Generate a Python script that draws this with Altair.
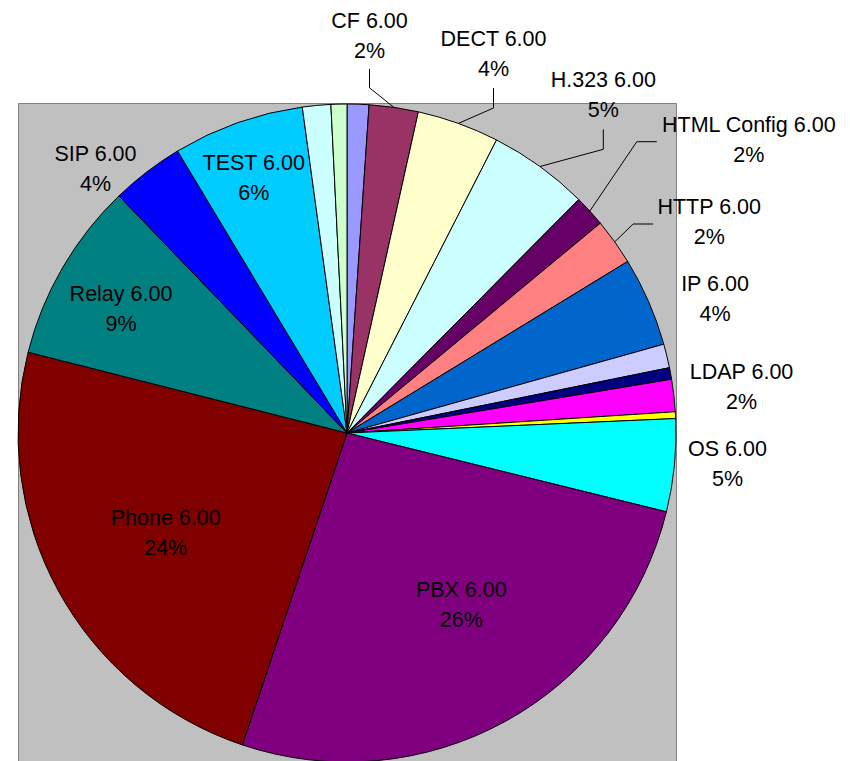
import altair as alt
import numpy as np
import pandas as pd

# ---------------- data ----------------
version = "6.00"
# slices in drawing order (clockwise from 12 o'clock); "" = slice without a label
slice_names = ["", "CF", "DECT", "H.323", "HTML Config", "HTTP", "IP", "", "",
               "LDAP", "", "OS", "PBX", "Phone", "Relay", "SIP", "TEST", "", ""]
values = [1.07, 2.41, 4.03, 4.93, 1.55, 2.28, 4.38, 1.17, 0.57,
          1.58, 0.33, 4.55, 26.3, 23.8, 8.86, 3.58, 6.44, 1.39, 0.78]
colors = ["#9999FF", "#993366", "#FFFFCC", "#CCFFFF", "#660066", "#FF8080",
          "#0066CC", "#CCCCFF", "#000080", "#FF00FF", "#FFFF00", "#00FFFF",
          "#800080", "#800000", "#008080", "#0000FF", "#00CCFF", "#CCFFFF",
          "#CCFFCC"]

# ---------------- layout (pixels, relative to pie centre, y up) ----------------
W, H = 658, 660
R = 329
label_offset = {
    "CF": (22.5, 396.7), "DECT": (146.5, 379.5), "H.323": (256.3, 338.2),
    "HTML Config": (401.8, 292.8), "HTTP": (362.2, 211.3), "IP": (368, 133.8),
    "LDAP": (394.5, 46.2), "OS": (380.5, -31.2), "PBX": (114.3, -171.5),
    "Phone": (-181.3, -100), "Relay": (-226, 123.7), "SIP": (-251.5, 263.7),
    "TEST": (-93.3, 255.2),
}
# leader line: elbow and end point relative to the label centre
leader_offset = {
    "CF": [(0, -51.5), (0, -32.6)],
    "DECT": [(0, -54.5), (0, -34.6)],
    "H.323": [(0, -54.5), (0, -34.6)],
    "HTML Config": [(-112, -1.5), (-92, -1.5)],
    "HTTP": [(-76, -2.3), (-56, -2.3)],
}

n = len(values)
vals = np.array(values, dtype=float)
total = vals.sum()
mid = (np.cumsum(vals) - vals / 2) / total * 2 * np.pi

df = pd.DataFrame({"idx": list(range(n)), "name": slice_names, "value": values})

lab_rows, lead_rows = [], []
for i, name in enumerate(slice_names):
    if not name:
        continue
    lx, ly = label_offset[name]
    lab_rows.append({"name": name, "x": lx, "y": ly,
                     "text": f"{name} {version}\n{values[i] / total:.0%}"})
    if name in leader_offset:
        pts = [(R * np.sin(mid[i]), R * np.cos(mid[i]))]
        pts += [(lx + dx, ly + dy) for dx, dy in leader_offset[name]]
        for k, (px, py) in enumerate(pts):
            lead_rows.append({"name": name, "pt": k, "x": px, "y": py})
df_lab = pd.DataFrame(lab_rows)
df_lead = pd.DataFrame(lead_rows)

xs = alt.Scale(domain=[-W / 2, W / 2], nice=False, zero=False)
ys = alt.Scale(domain=[-H / 2, H / 2], nice=False, zero=False)

pie = alt.Chart(df).mark_arc(outerRadius=R, stroke="black", strokeWidth=1).encode(
    theta=alt.Theta("value:Q", stack=True),
    order=alt.Order("idx:Q"),
    color=alt.Color("idx:N", scale=alt.Scale(domain=list(range(n)), range=colors),
                    legend=None),
)

lines = alt.Chart(df_lead).mark_line(color="black", strokeWidth=1).encode(
    x=alt.X("x:Q", scale=xs, axis=None),
    y=alt.Y("y:Q", scale=ys, axis=None),
    detail="name:N",
    order="pt:Q",
)

text = alt.Chart(df_lab).mark_text(
    font="Liberation Sans", fontSize=21.5, lineHeight=30, lineBreak="\n",
    color="black", align="center", baseline="middle", dy=-14,
).encode(
    x=alt.X("x:Q", scale=xs, axis=None),
    y=alt.Y("y:Q", scale=ys, axis=None),
    text="text:N",
)

chart = alt.layer(pie, lines, text).properties(
    width=W, height=H,
    padding={"left": 10, "top": 95, "right": 166, "bottom": 0},
    autosize=alt.AutoSizeParams(type="none"),
    background="white",
).configure_view(fill="#C0C0C0", stroke="#808080", strokeWidth=1)

chart.save("out.html", embed_options={"renderer": "svg", "actions": False})
